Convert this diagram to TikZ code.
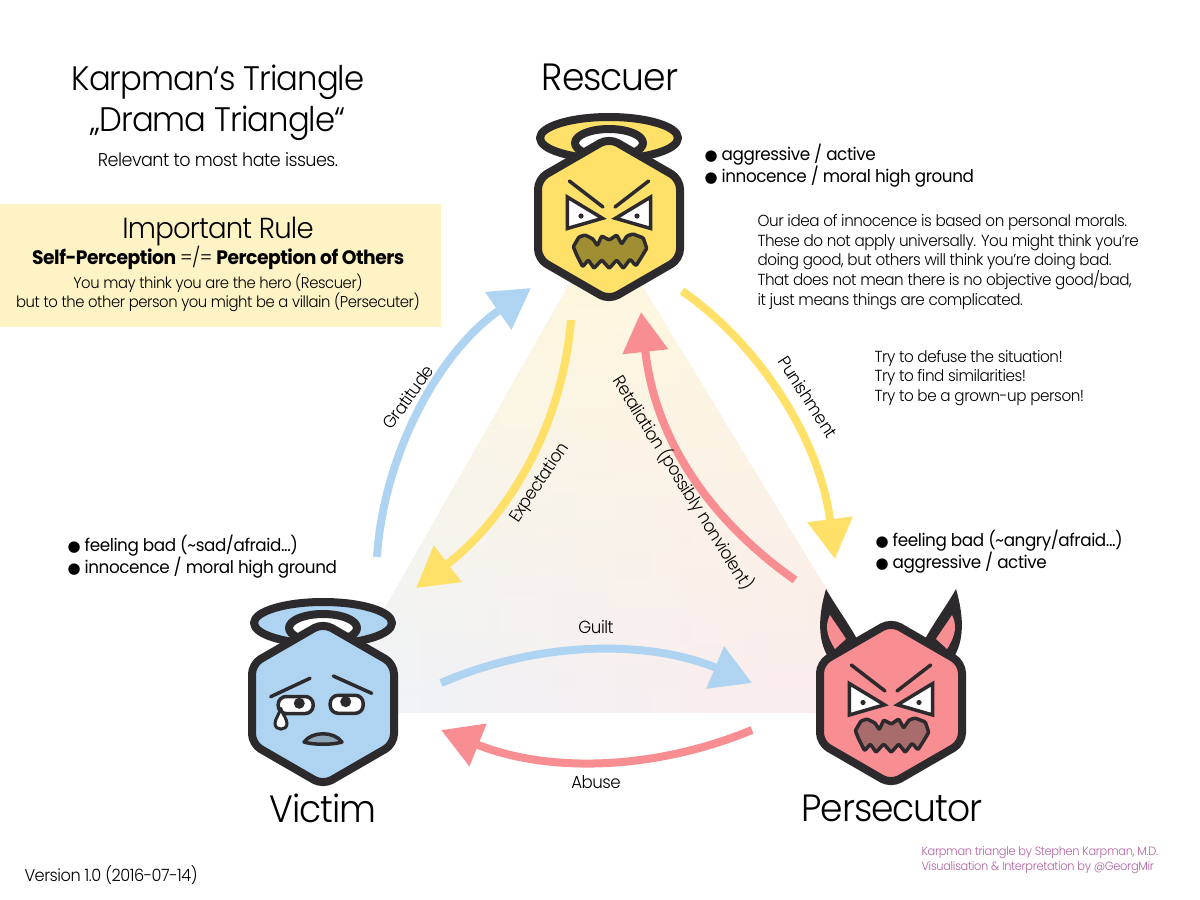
\documentclass[tikz,border=0pt]{standalone}
\usepackage{fontspec}
\usepackage{tikz}
\usetikzlibrary{arrows.meta, fadings}
\setmainfont{Poppins}[FakeStretch=0.96,LetterSpace=-2.4]
\newfontfamily\lightfont{Poppins Light}[FakeStretch=0.95,LetterSpace=-2.8]
\newfontfamily\dotfont{DejaVu Sans}
\newcommand{\dotmark}{\smash{\dotfont\fontsize{15}{20.5}\selectfont ●}}
\definecolor{inkdark}{RGB}{45, 42, 46}
\definecolor{rescuerfill}{RGB}{255, 225, 105}
\definecolor{victimfill}{RGB}{174, 212, 241}
\definecolor{persecfill}{RGB}{248, 141, 146}
\definecolor{rescuermouth}{RGB}{160, 142, 50}
\definecolor{persecmouth}{RGB}{168, 108, 108}
\definecolor{victimmouth}{RGB}{138, 165, 181}
\definecolor{rulebox}{RGB}{253, 243, 197}
\definecolor{credit}{RGB}{176, 96, 160}
\definecolor{tintyellow}{RGB}{255, 248, 220}
\definecolor{tintblue}{RGB}{238, 244, 250}
\definecolor{tintmid}{RGB}{251, 245, 244}
\definecolor{tintred}{RGB}{253, 235, 235}
\tikzfading[name=fadedown, top color=transparent!0, middle color=transparent!72, bottom color=transparent!100]
\tikzset{
    headline/.style={draw=inkdark, line width=8pt, line join=round},
    faceline/.style={draw=inkdark, line width=3.5pt, line cap=round, line join=round},
    flow/.style={line width=8pt, -{Triangle[length=40pt,width=44pt]}},
    big/.style={font=\lightfont\fontsize{38}{42}\selectfont},
    small/.style={font=\lightfont\fontsize{16}{19.7}\selectfont, align=left},
    tag/.style={font=\lightfont\fontsize{17.5}{20}\selectfont},
    points/.style={font=\fontsize{17.5}{20.5}\selectfont, align=left, anchor=west},
    pics/hexhead/.style={code={
        \draw[headline, fill=#1, rounded corners=10pt] (0,-81) -- (71,-40) -- (71,40) -- (0,81) -- (-71,40) -- (-71,-40) -- cycle;
    }},
    pics/halo/.style={code={
        \draw[headline, fill=#1] (0,-81) ellipse [x radius=69pt, y radius=21pt];
        \draw[headline, fill=white] (0,-76) ellipse [x radius=34pt, y radius=14pt];
    }},
    pics/angryface/.style 2 args={code={
        \foreach \s in {1,-1} {
            \begin{scope}[xscale=\s]
                \draw[faceline] (-39.7,-38) -- (-6,-12);
                \draw[faceline, fill=white, line cap=butt, line join=miter] (-41.7,{-22+#2}) -- (-41.7,{9.5+#2}) -- (-6.5,{-0.7+#2}) -- cycle;
                \fill[inkdark] (-28,{-3+#2}) circle [radius=2.6pt];
            \end{scope}
        }
        \draw[faceline, fill=#1, rounded corners=1pt] (-35.7,27.7) -- (-30,18) -- (-24,16) -- (-16,20) -- (-11.7,26.7) -- (-7.3,17) -- (0.3,21) -- (7.7,16) -- (12.7,25) -- (18,17) -- (24,15) -- (34.3,19) -- (37.7,29.3) -- (32.7,37.7) -- (27,46.7) -- (21,40.3) -- (14.3,49.3) -- (7.7,41) -- (0.3,49.3) -- (-7.3,41) -- (-15,49.3) -- (-20.7,41) -- (-26.3,47.7) -- (-32.3,36) -- cycle;
    }}
}

\begin{document}
\begin{tikzpicture}[x=1pt, y=-1pt]
    \useasboundingbox (0,0) rectangle (1200,900);

    % Triangle behind the heads
    \shade[left color=tintblue, middle color=tintmid, right color=tintred] (604,223) -- (325,713) -- (902,713) -- cycle;
    \fill[tintyellow, path fading=fadedown] (604,223) -- (325,713) -- (902,713) -- cycle;

    % Rule box
    \fill[rulebox] (0,204) rectangle (441,327);

    % Heads
    \coordinate (rescuer) at (609,219);
    \coordinate (victim) at (323,704);
    \coordinate (persecutor) at (891,703);

    \pic at (rescuer) {halo=rescuerfill};
    \pic at (rescuer) {hexhead=rescuerfill};
    \pic at (rescuer) {angryface={rescuermouth}{0}};

    \pic at (victim) {halo=victimfill};
    \pic at (victim) {hexhead=victimfill};
    \begin{scope}[shift={(victim)}]
        \draw[faceline] (-52.3,-7.3) -- (-13,-25.7);
        \draw[faceline] (10.3,-28) -- (48.7,-10.7);
        \draw[faceline, fill=white, rounded corners=8pt] (-44.8,-7.5) rectangle (-9.8,9.5);
        \draw[faceline, fill=white, rounded corners=8pt] (7.2,-8.7) rectangle (40.2,9.3);
        \fill[inkdark] (-23.7,-0.7) circle [radius=5.5pt];
        \fill[inkdark] (22.7,-2.3) circle [radius=5.5pt];
        \draw[faceline, fill=white, line width=3pt] (-42.3,4.3) .. controls (-44,11) and (-48,15) .. (-48,19.5) .. controls (-48,27) and (-36,27) .. (-36,19.5) .. controls (-36,15) and (-40,11) .. (-42.3,4.3);
        \draw[faceline, fill=victimmouth] (-19,38) .. controls (-11,27) and (11,27) .. (19,38) .. controls (10,41) and (-10,41) .. cycle;
    \end{scope}

    % Horns go under the red head
    \foreach \s in {1,-1} {
        \begin{scope}[shift={(persecutor)}, xscale=\s]
            \fill[inkdark] (-65,-114) .. controls (-72,-90) and (-74,-66) .. (-64,-48) -- (-34,-64) .. controls (-44,-82) and (-56,-98) .. cycle;
            \fill[persecfill] (-61,-88) .. controls (-66,-78) and (-65,-68) .. (-56,-54) -- (-45,-64) .. controls (-50,-72) and (-56,-80) .. cycle;
        \end{scope}
    }
    \pic at (persecutor) {hexhead=persecfill};
    \pic at (persecutor) {angryface={persecmouth}{2.5}};

    % Arrow ends
    \coordinate (gratstart) at (377,557); \coordinate (gratend) at (531,288);
    \coordinate (expstart) at (571,320); \coordinate (expend) at (416,588);
    \coordinate (punstart) at (682,291); \coordinate (punend) at (835,559);
    \coordinate (retstart) at (795,580); \coordinate (retend) at (641,312);
    \coordinate (guiltstart) at (441,683); \coordinate (guiltend) at (752,683);
    \coordinate (abusestart) at (752,730); \coordinate (abuseend) at (441,730);

    % Arrows
    \draw[flow, victimfill] (gratstart) .. controls (383,460) and (435,355) .. (gratend);
    \draw[flow, rescuerfill] (expstart) .. controls (562,430) and (505,520) .. (expend);
    \draw[flow, rescuerfill] (punstart) .. controls (760,345) and (820,440) .. (punend);
    \draw[flow, persecfill] (retstart) .. controls (710,520) and (655,440) .. (retend);
    \draw[flow, victimfill] (guiltstart) .. controls (540,640) and (650,640) .. (guiltend);
    \draw[flow, persecfill] (abusestart) .. controls (650,772) and (545,772) .. (abuseend);

    % Arrow labels
    \node[tag, rotate=54] (gratitude) at (408,397) {Gratitude};
    \node[tag, rotate=56] (expectation) at (540,483) {Expectation};
    \node[tag, rotate=-57] (punishment) at (808,397) {Punishment};
    \node[tag, rotate=-58] (retaliation) at (683,483) {Retaliation (possibly nonviolent)};
    \node[tag] (guilt) at (596,627) {Guilt};
    \node[tag] (abuse) at (596,782) {Abuse};

    % Head names
    \node[big] (rescuername) at (610,77) {Rescuer};
    \node[big] (victimname) at (323,808) {Victim};
    \node[big] (persecutorname) at (892,808) {Persecutor};

    % Title and rule
    \node[font=\lightfont\fontsize{34}{41}\selectfont, align=center] (title) at (218,103) {Karpman‘s Triangle\\„Drama Triangle“};
    \node[font=\lightfont\fontsize{18.5}{20}\selectfont] (subtitle) at (218,160) {Relevant to most hate issues.};
    \node[font=\lightfont\fontsize{29}{32}\selectfont] (rulehead) at (218,232) {Important Rule};
    \node[font=\fontsize{19.5}{20}\selectfont] (rulemain) at (218,258) {\textbf{Self-Perception} {\lightfont =/=} \textbf{Perception of Others}};
    \node[font=\lightfont\fontsize{15.6}{19.5}\selectfont, align=center] (ruletext) at (218,293) {You may think you are the hero (Rescuer)\\but to the other person you might be a villain (Persecuter)};

    % Lists next to the heads
    \node[points] (rescuerpoints) at (701,166) {\dotmark{} aggressive / active\\\dotmark{} innocence / moral high ground};
    \node[points] (victimpoints) at (64,557) {\dotmark{} feeling bad (\textasciitilde sad/afraid...)\\\dotmark{} innocence / moral high ground};
    \node[points] (persecutorpoints) at (872,552) {\dotmark{} feeling bad (\textasciitilde angry/afraid...)\\\dotmark{} aggressive / active};

    % Side texts
    \node[small, anchor=west] (morals) at (754,262) {Our idea of innocence is based on personal morals.\\These do not apply universally. You might think you’re\\doing good, but others will think you’re doing bad.\\That does not mean there is no objective good/bad,\\it just means things are complicated.};
    \node[small, anchor=west] (advice) at (871,378) {Try to defuse the situation!\\Try to find similarities!\\Try to be a grown-up person!};

    % Footer
    \node[font=\lightfont\fontsize{17}{20}\selectfont, anchor=west] (version) at (21,875) {Version 1.0 (2016-07-14)};
    \node[font=\lightfont\fontsize{12}{15}\selectfont, text=credit, align=left, anchor=west] (creditline) at (918,860) {Karpman triangle by Stephen Karpman, M.D.\\Visualisation \& Interpretation by @GeorgMir};
\end{tikzpicture}
\end{document}
